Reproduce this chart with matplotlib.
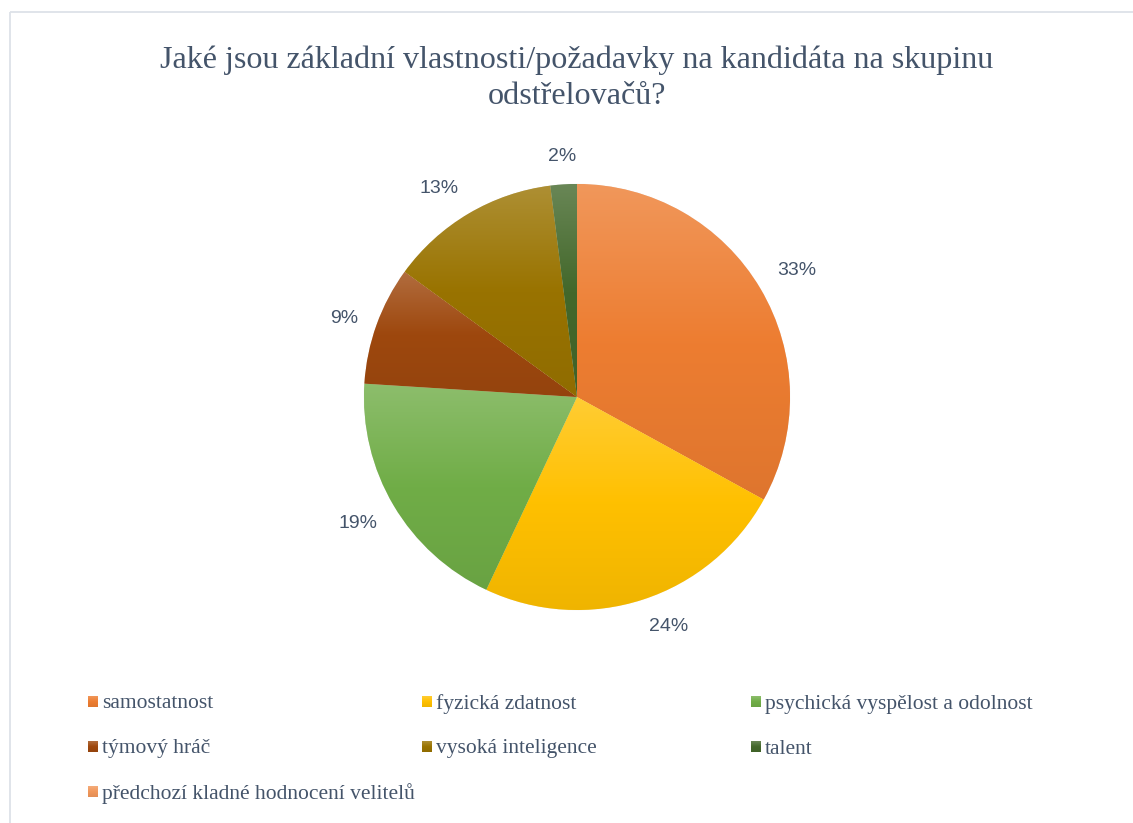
import numpy as np
import matplotlib
matplotlib.use("Agg")
import matplotlib.pyplot as plt
from matplotlib.colors import to_rgb

title = "Jaké jsou základní vlastnosti/požadavky na kandidáta na skupinu\nodstřelovačů?"
categories = ["samostatnost", "fyzická zdatnost", "psychická vyspělost a odolnost",
              "týmový hráč", "vysoká inteligence", "talent",
              "předchozí kladné hodnocení velitelů"]
values = [33, 24, 19, 9, 13, 2, 0]
colors = ["#ED7D31", "#FFC000", "#70AD47", "#9E480E", "#997300", "#43682B", "#F1975A"]

W, H = 1133, 823
fig = plt.figure(figsize=(W / 100, H / 100), dpi=100)
fig.patch.set_facecolor("white")

TEXT = "#44546A"
serif = ["Liberation Serif", "DejaVu Serif"]
sans = ["Liberation Sans", "DejaVu Sans"]

# overlay axes in pixel coords (y down)
ov = fig.add_axes([0, 0, 1, 1], zorder=5)
ov.set_xlim(0, W)
ov.set_ylim(H, 0)
ov.axis("off")
ov.patch.set_alpha(0)

# chart border (top and left visible)
ov.plot([9.5, W + 5], [11.5, 11.5], color="#DDE2E8", lw=1.3, solid_capstyle="butt")
ov.plot([9.5, 9.5], [11.5, H + 5], color="#DDE2E8", lw=1.3, solid_capstyle="butt")


def grad_img(base):
    b = np.array(to_rgb(base))
    top = b * 0.80 + 0.20
    bot = b * 0.94
    t = np.linspace(0, 1, 64)[:, None]
    img = np.where(t < 0.5,
                   top + (b - top) * (t / 0.5),
                   b + (bot - b) * ((t - 0.5) / 0.5))
    return img[:, None, :]


# pie axes
cx, cy, R = 577, 397, 213
k = 1.45
side = 2 * R * k
ax = fig.add_axes([(cx - side / 2) / W, (H - cy - side / 2) / H, side / W, side / H])
ax.set_xlim(-k, k)
ax.set_ylim(-k, k)
ax.set_aspect("equal")
ax.axis("off")

wedges, _ = ax.pie(values, colors=colors, startangle=90, counterclock=False,
                   radius=1, wedgeprops=dict(linewidth=0.4, edgecolor="#f4f4f4"))
total = sum(values)
cum = 0
for w, v, c in zip(wedges, values, colors):
    if v > 0:
        a0 = cum / total * 2 * np.pi
        a1 = (cum + v) / total * 2 * np.pi
        ang = np.linspace(a0, a1, 100)
        xs = np.concatenate([[0], np.sin(ang)])
        ys = np.concatenate([[0], np.cos(ang)])
        im = ax.imshow(grad_img(c), extent=[xs.min(), xs.max(), ys.min(), ys.max()],
                       origin="upper", aspect="auto", zorder=w.get_zorder() + 0.1,
                       interpolation="bilinear")
        im.set_clip_path(w)
        # label
        mid = (cum + v / 2) / total * 2 * np.pi
        s, co = np.sin(mid), np.cos(mid)
        rl = 1.09
        ha = "center" if abs(s) < 0.15 else ("left" if s > 0 else "right")
        va = "center" if abs(co) < 0.45 else ("bottom" if co > 0 else "top")
        ax.text(rl * s, rl * co, f"{v}%", ha=ha, va=va, fontsize=14,
                color=TEXT, family=sans, zorder=10)
    cum += v
ax.set_xlim(-k, k)
ax.set_ylim(-k, k)

# title
ov.text(577, 78, title, ha="center", va="center", fontsize=23.1, color=TEXT,
        family=serif, linespacing=1.3)

# legend
col_x = [88, 422, 751]
row_y = [702, 747, 792]
for i, (name, c) in enumerate(zip(categories, colors)):
    r, cidx = divmod(i, 3)
    x0, y0 = col_x[cidx], row_y[r]
    ov.imshow(grad_img(c), extent=[x0, x0 + 10, y0 + 5.5, y0 - 5.5], aspect="auto",
              interpolation="bilinear", zorder=6)
    ov.text(x0 + 14, y0 + 2, name, ha="left", va="center", fontsize=15.5, color=TEXT,
            family=serif)
ov.set_xlim(0, W)
ov.set_ylim(H, 0)

fig.savefig("out.png", dpi=100)
